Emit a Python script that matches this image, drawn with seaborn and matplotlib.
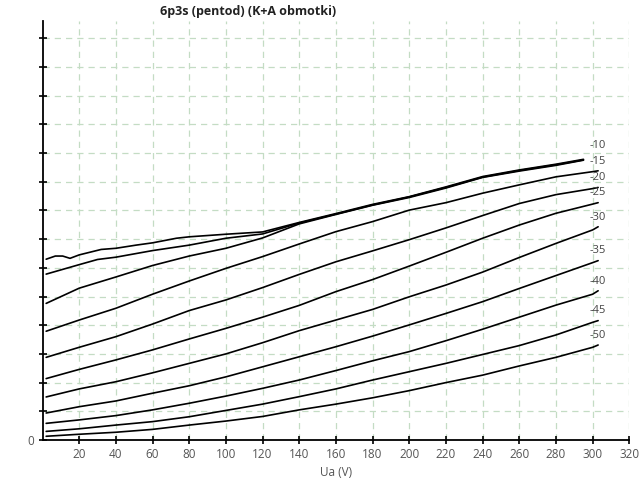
import numpy as np
import pandas as pd
import matplotlib
matplotlib.use("Agg")
import matplotlib.pyplot as plt
import seaborn as sns

# anode voltage grid (V) used for the -15 .. -50 V curves
ua = [2, 20, 40, 60, 80, 100, 120, 140, 160, 180, 200, 220, 240, 260, 280, 300, 303]

# top bundle: 0, -5, -10 V (they merge above ~140 V)
ua_g0 = [2, 7, 11, 15, 20, 32, 40, 51, 60, 73, 80, 100, 120, 140, 160, 180, 200, 220, 240, 260, 280, 295]
ia_g0 = [63.0, 64.1, 64.1, 63.3, 64.5, 66.4, 66.8, 67.9, 68.7, 70.3, 70.8, 71.7, 72.5, 75.8,
         78.9, 82.1, 84.8, 88.2, 91.8, 94.1, 96.1, 97.8]

ua_g5 = [2, 20, 30, 40, 60, 80, 100, 120, 140, 160, 180, 200, 220, 240, 260, 280, 295]
ia_g5 = [57.8, 61.1, 62.9, 63.7, 66.0, 67.9, 70.3, 71.8, 75.6, 78.7, 81.9, 84.7, 88.0, 91.6,
         93.9, 95.9, 97.6]

ua_g10 = [2, 20, 40, 60, 80, 100, 120, 140, 160, 180, 200, 220, 240, 260, 280, 295]
ia_g10 = [47.6, 52.9, 56.8, 60.8, 64.1, 66.8, 70.4, 75.3, 78.6, 81.8, 84.5, 87.8, 91.5, 93.7,
          95.7, 97.5]

ia_g15 = [37.9, 41.8, 45.9, 50.8, 55.4, 59.8, 63.9, 68.3, 72.6, 76.1, 80.1, 82.7, 86.0, 88.9, 91.7, 93.5, 93.8]
ia_g20 = [28.8, 32.3, 36.0, 40.4, 45.1, 48.8, 53.1, 57.7, 62.1, 65.9, 69.8, 73.9, 78.2, 82.4, 85.5, 87.6, 88.0]
ia_g25 = [21.4, 24.6, 27.9, 31.4, 35.2, 38.9, 42.8, 46.9, 51.7, 55.9, 60.6, 65.4, 70.3, 74.9, 79.0, 82.2, 82.7]
ia_g30 = [15.0, 17.8, 20.3, 23.4, 26.7, 30.0, 33.9, 38.1, 41.8, 45.5, 49.9, 54.0, 58.5, 63.6, 68.5, 73.2, 74.3]
ia_g35 = [9.4, 11.6, 13.6, 16.3, 18.9, 22.0, 25.5, 29.0, 32.5, 36.2, 40.1, 44.1, 48.2, 52.8, 57.3, 61.8, 62.5]
ia_g40 = [5.8, 7.0, 8.5, 10.5, 12.8, 15.3, 18.0, 20.9, 24.2, 27.6, 30.8, 34.6, 38.6, 42.8, 47.0, 50.8, 52.0]
ia_g45 = [3.0, 3.9, 5.2, 6.4, 8.1, 10.3, 12.5, 15.1, 17.8, 20.9, 23.8, 26.7, 29.8, 32.9, 36.6, 41.0, 41.6]
ia_g50 = [1.3, 2.0, 2.7, 3.7, 5.2, 6.6, 8.2, 10.5, 12.5, 14.7, 17.2, 20.0, 22.6, 25.8, 28.8, 32.3, 33.1]

curves = [
    ("0", ua_g0, ia_g0),
    ("-5", ua_g5, ia_g5),
    ("-10", ua_g10, ia_g10),
    ("-15", ua, ia_g15),
    ("-20", ua, ia_g20),
    ("-25", ua, ia_g25),
    ("-30", ua, ia_g30),
    ("-35", ua, ia_g35),
    ("-40", ua, ia_g40),
    ("-45", ua, ia_g45),
    ("-50", ua, ia_g50),
]
labelled = ["-10", "-15", "-20", "-25", "-30", "-35", "-40", "-45", "-50"]

sns.set_theme(style="white")
plt.rcParams['font.family'] = ['Open Sans', 'DejaVu Sans']

fig = plt.figure(figsize=(6.4, 4.8), dpi=100)
ax = fig.add_axes([42.5 / 640, 40 / 480, (629.3 - 42.5) / 640, (440 - 21) / 480])

for name, x, y in curves:
    df = pd.DataFrame({"Ua": x, "Ia": y})
    sns.lineplot(data=df, x="Ua", y="Ia", ax=ax, color="black", linewidth=1.2,
                 sort=False, estimator=None)
    if name in labelled:
        # the -10 label sits on the bundle, nudge it up so it clears -15
        dy = 5.2 if name == "-10" else 3.4
        ax.text(298.5, y[-1] + dy, name, ha="left", va="center",
                fontsize=8, color="#444444")

ax.set_xlim(0, 320)
ax.set_ylim(0, 146)
ax.set_xticks(np.arange(20, 321, 20))
ax.set_yticks(np.arange(0, 141, 10))
ax.set_yticklabels(["0"] + [""] * 14)
ax.tick_params(axis="x", bottom=True, direction="inout", length=6, width=1.2, colors="black",
               labelcolor="#555555", labelsize=8.5, pad=3)
ax.tick_params(axis="y", left=True, direction="inout", length=6, width=1.2, colors="black",
               labelcolor="#555555", labelsize=8.5, pad=3)
ax.grid(True, color="#c4dcc4", linestyle=(0, (5, 4)), linewidth=0.9)
for s in ["top", "right"]:
    ax.spines[s].set_visible(False)
for s in ["left", "bottom"]:
    ax.spines[s].set_color("black")
    ax.spines[s].set_linewidth(1.3)
ax.set_xlabel("Ua (V)", fontsize=8.5, color="#555555", labelpad=3)
ax.set_ylabel("")

fig.text(248 / 640, 1 - 11 / 480, "6p3s (pentod) (K+A obmotki)", ha="center", va="center",
         fontsize=9, fontweight="bold", color="#222222")

fig.savefig("out.png", dpi=100)
